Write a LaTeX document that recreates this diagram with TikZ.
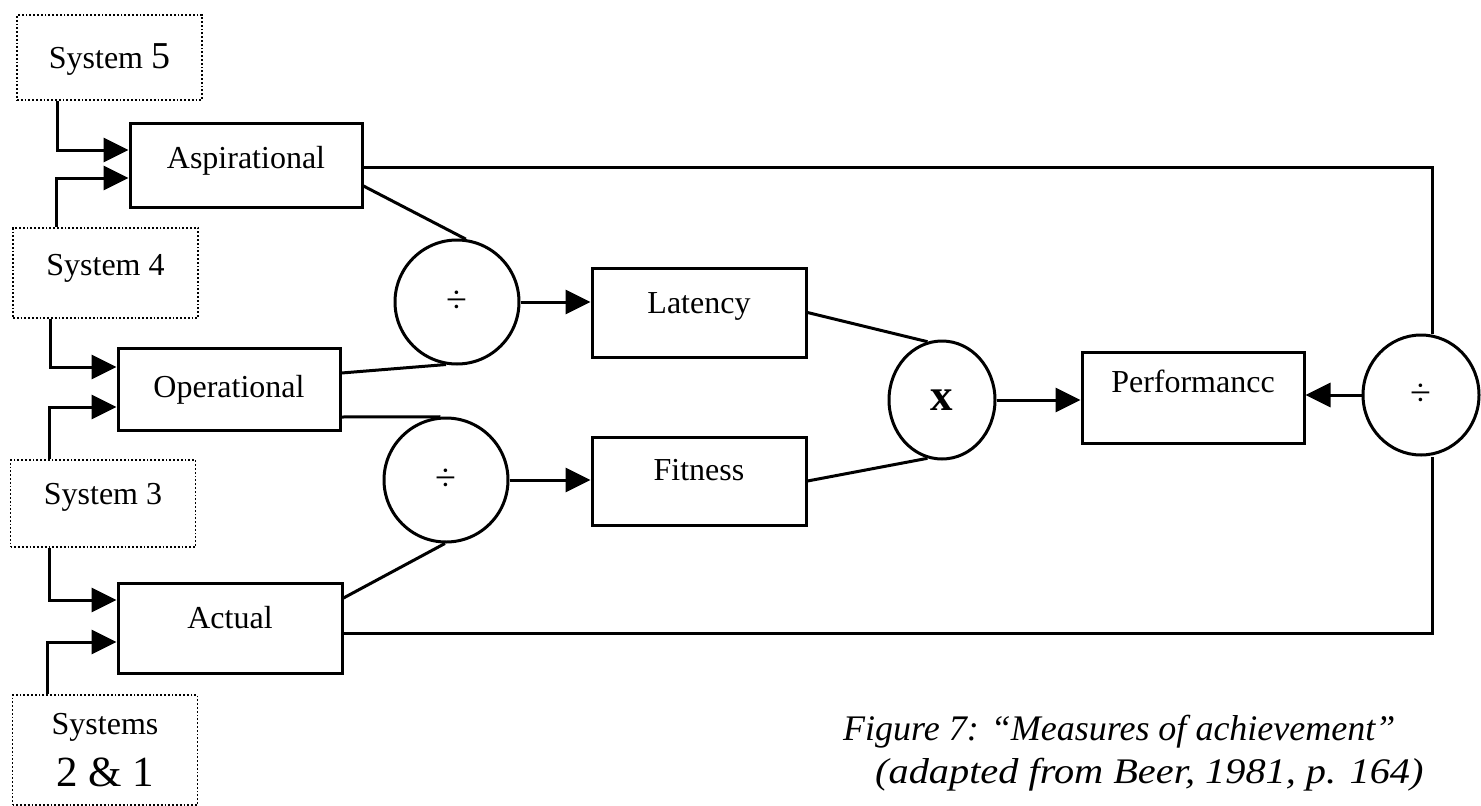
\documentclass[tikz,border=0pt]{standalone}
\usepackage{fontspec}
\setmainfont{Liberation Serif}
\usetikzlibrary{arrows.meta,shapes.geometric}

\tikzset{
  sysbox/.style={draw, line width=1.8pt, dash pattern=on 1.8pt off 2pt,
    minimum width=185pt, inner sep=0pt, align=center,
    font=\fontsize{32}{52}\selectfont},
  mbox/.style={draw, line width=3pt, inner sep=0pt,
    font=\fontsize{32}{38}\selectfont, text height=22pt},
  opnode/.style={draw, ellipse, line width=3pt, inner sep=0pt,
    font=\fontsize{38}{40}\selectfont},
  link/.style={line width=3pt},
  arr/.style={line width=3pt, -{Triangle[length=25pt,width=24pt]}},
  captext/.style={anchor=base west, inner sep=0pt,
    font=\fontsize{36}{40}\selectfont\itshape},
}

\begin{document}
\begin{tikzpicture}[x=1pt,y=-1pt]
\useasboundingbox (0,0) rectangle (1481,806);

% system sources (dotted boxes)
\node[sysbox, minimum height=85pt, text height=22pt, text depth=1pt] (s5) at (109.5,57.5)
  {System {\fontsize{38}{38}\selectfont 5}};
\node[sysbox, minimum height=90pt, text height=22pt, text depth=17pt] (s4) at (105.5,273) {System 4};
\node[sysbox, minimum height=87pt, text height=22pt, text depth=21pt] (s3) at (103,503.5) {System 3};
\node[sysbox, minimum height=110pt] (s21) at (105,750)
  {Systems\\{\fontsize{43}{52}\selectfont 2 \& 1}};

% measure boxes
\node[mbox, minimum width=232pt, minimum height=84pt, text depth=15pt] (asp) at (246,165) {Aspirational};
\node[mbox, minimum width=222pt, minimum height=82pt, text depth=5pt]  (op)  at (229,389) {Operational};
\node[mbox, minimum width=224pt, minimum height=90pt, text depth=21pt] (act) at (230,628) {Actual};
\node[mbox, minimum width=214pt, minimum height=89pt, text depth=21pt] (lat) at (699,312.5) {Latency};
\node[mbox, minimum width=214pt, minimum height=88pt, text depth=23pt] (fit) at (699,481) {Fitness};
\node[mbox, minimum width=222pt, minimum height=91pt, text depth=33pt] (perf) at (1193,397.5) {Performancc};

% operators
\node[opnode, minimum width=124pt, minimum height=124pt] (d1) at (457,302) {÷};
\node[opnode, minimum width=124pt, minimum height=124pt] (d2) at (446,480) {÷};
\node[opnode, minimum width=106pt, minimum height=118pt, font=\fontsize{45}{45}\selectfont\bfseries] (mul) at (942,400) {x};
\node[opnode, minimum width=116pt, minimum height=120pt] (d3) at (1421,395) {÷};

% inputs from the systems
\draw[arr] ([xshift=41pt]s5.south west) |- ([yshift=15pt]asp.west);
\draw[arr] ([xshift=44pt]s4.north west) |- ([yshift=-13pt]asp.west);
\draw[arr] ([xshift=38pt]s4.south west) |- ([yshift=22pt]op.west);
\draw[arr] ([xshift=40pt]s3.north west) |- ([yshift=-18pt]op.west);
\draw[arr] ([xshift=40pt]s3.south west) |- ([yshift=28pt]act.west);
\draw[arr] ([xshift=36pt]s21.north west) |- ([yshift=-14pt]act.west);

% ratios
\draw[link] ([yshift=-21pt]asp.east) -- (d1.82);
\draw[link] ([yshift=16pt]op.east) -- (d1.260);
\draw[link] ([yshift=-28pt]op.east) -- (d2.95);
\draw[link] ([yshift=30pt]act.east) -- (d2.269);
\draw[arr] (d1.east) -- (d1.east -| lat.west);
\draw[arr] (d2.east) -- (d2.east -| fit.west);

% product and performance
\draw[link] (lat.east) -- (mul.104);
\draw[link] (fit.east) -- (mul.256);
\draw[arr] (mul.east) -- (mul.east -| perf.west);
\draw[arr] (d3.west) -- (d3.west -| perf.east);
\draw[link] ([yshift=-2pt]asp.east) -| ([xshift=11pt]d3.north);
\draw[link] ([yshift=-5pt]act.east) -| ([xshift=11pt]d3.south);

% caption
\node[captext] (cap1) at (843,740)
  {Figure 7: “Measures of achievement”};
\node[captext] (cap2) at (875,783)
  {\scalebox{1.12}[1]{(adapted from Beer, 1981, p. 164)}};
\end{tikzpicture}
\end{document}
